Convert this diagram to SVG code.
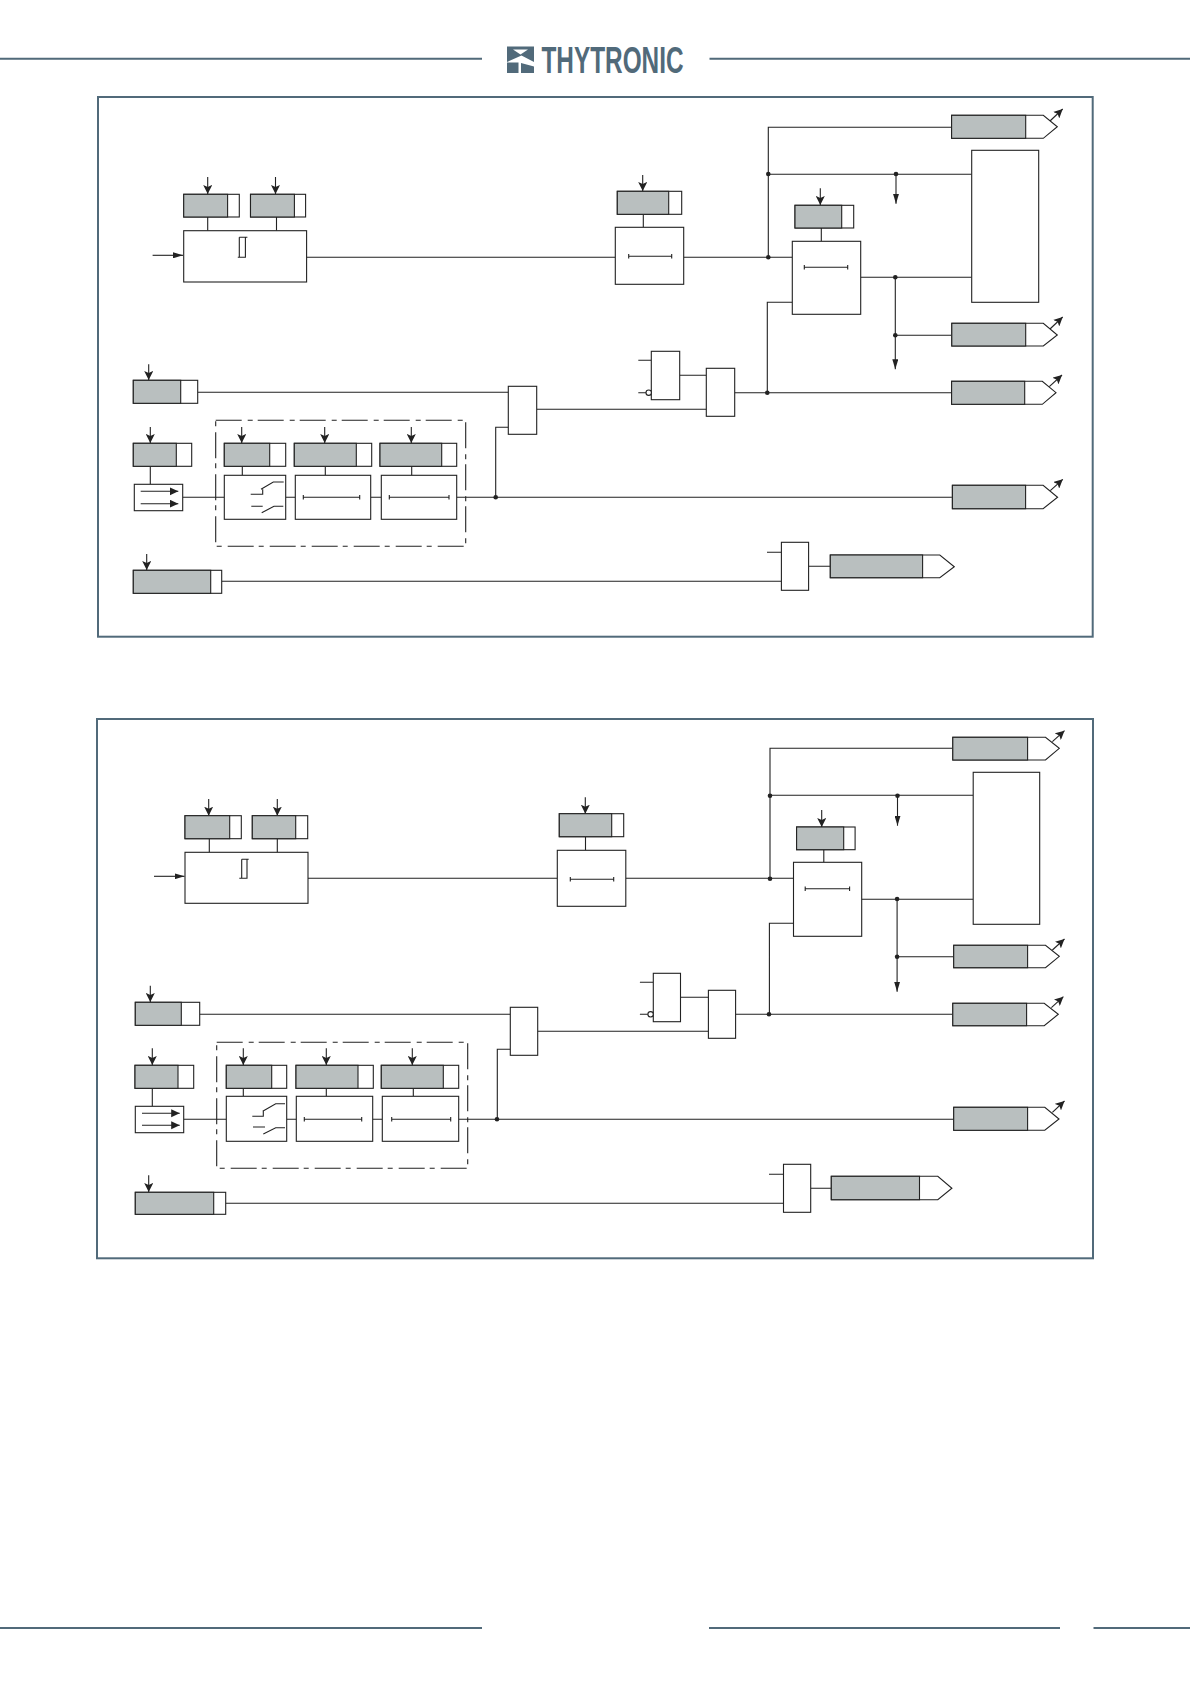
<svg xmlns="http://www.w3.org/2000/svg" width="1190" height="1684" viewBox="0 0 1190 1684">
<style>
.rule{stroke:#516a7a;stroke-width:2;fill:none}
.frame{stroke:#516a7a;stroke-width:2;fill:none}
.b{fill:#fff;stroke:#222;stroke-width:1.1}
.g{fill:#b9bfbf;stroke:#222;stroke-width:1.1}
.l{fill:none;stroke:#222;stroke-width:1.1}
.dash{fill:none;stroke:#222;stroke-width:1.1;stroke-dasharray:26 6 5 5}
.d{fill:#222}
.a{fill:none;stroke:#222;stroke-width:1.1;marker-end:url(#head)}
.t{fill:none;stroke:#222;stroke-width:1.1;marker-end:url(#tall)}
.f{fill:none;stroke:#222;stroke-width:1.1;marker-end:url(#fat)}
.logo{fill:#516a7a}
</style>
<defs>
<marker id="head" markerUnits="userSpaceOnUse" markerWidth="10" markerHeight="9" refX="9" refY="4.500" orient="auto"><path d="M0,0 L9,4.500 L0,9 L2,4.500 Z" fill="#222"/></marker>
<marker id="tall" markerUnits="userSpaceOnUse" markerWidth="10" markerHeight="6" refX="10" refY="3" orient="auto"><path d="M0,0 L10,3 L0,6 Z" fill="#222"/></marker>
<marker id="fat" markerUnits="userSpaceOnUse" markerWidth="9" markerHeight="9" refX="8.500" refY="4" orient="auto"><path d="M0,0 L8.500,4 L0,8 Z" fill="#222"/></marker>
</defs>
<rect width="1190" height="1684" fill="#fff"/>
<g id="header">
<path class="rule" d="M0,58.700H482M709.500,58.700H1190"/>
<path class="logo" d="M507,46.500H534V62L521.500,55.500 507,62Z"/>
<path d="M513,49.500H528L520.500,54.500Z" fill="#fff"/>
<path class="logo" d="M507,62.500H518.500V73H507ZM521,63L534,66.500V73H521Z"/>
<text x="541.500" y="73.300" font-family="'Liberation Sans',Arial,sans-serif" font-size="37.500" font-weight="bold" class="logo" textLength="142" lengthAdjust="spacingAndGlyphs">THYTRONIC</text>
</g>
<g id="footer"><path class="rule" d="M0,1628H482M709,1628H1060M1093.500,1628H1190"/></g>

<g id="panel1">
<rect id="frame1" class="frame" x="98" y="97" width="994.700" height="539.700"/>
<g id="connectors1">
<path class="l" d="M951,127.300H768.300V257.300M768.300,174.300H971.700M306.600,257.300H615.300M683.700,257.300H792.300M860.700,277.300H971.700M895.300,335.300H951.300M734.700,392.700H951M767.300,392.700V302.300H792.300M197.700,392.300H508.300M536.700,409.300H706.300M679.700,375.300H706.300M638.300,360.300H651.300M638.300,392.700H646M182.700,497.300H224.300M285.700,497.300H295.300M370.700,497.300H381.300M456.700,497.300H951.900M495.700,497.300V427.300H508.300M221.700,581.300H781.400M767,552.300H781.400M808.600,566.300H830.300M207.700,217V230.700M276.500,217V230.700M643.300,214.300V227.300M821.300,228V241.300M150.300,466.300V484.300M242.300,466.300V475.300M325.300,466.300V475.300M411.700,466.300V475.300"/>
<path class="a" d="M207.700,177V194"/><path class="a" d="M275.500,177V194"/><path class="a" d="M642.700,175V191"/><path class="a" d="M820.300,188.300V205"/>
<path class="a" d="M148.700,364.300V380"/><path class="a" d="M150.300,427V443"/><path class="a" d="M241.700,427V443"/><path class="a" d="M324.700,427V443"/><path class="a" d="M411.300,427V443"/><path class="a" d="M146.700,554V570"/>
<path class="a" d="M1050,121L1062.700,109"/>
<path class="a" d="M1050,329L1062.700,317"/><path class="a" d="M1049.300,386.700L1062,375"/><path class="a" d="M1050.300,490.700L1062.800,479.300"/>
<path class="t" d="M152.600,255.300H183"/><path class="t" d="M896,174.300V203.700"/><path class="t" d="M895.300,277.300V369.300"/>
<circle class="d" cx="768.300" cy="174" r="2.300"/><circle class="d" cx="768.300" cy="257.300" r="2.300"/><circle class="d" cx="896" cy="174" r="2.300"/><circle class="d" cx="895.300" cy="277.300" r="2.300"/><circle class="d" cx="895.300" cy="335.300" r="2.300"/><circle class="d" cx="767.300" cy="392.700" r="2.300"/><circle class="d" cx="495.700" cy="497.300" r="2.300"/>
</g>
<g id="p1-hyst"><rect class="b" x="183.700" y="230.700" width="122.900" height="51.300"/><path class="l" d="M239.300,237.300H247.400M245.400,237.300V257.300H237.800M239.300,237.300V257.300"/></g>
<g id="p1-tagA"><rect class="b" x="183.700" y="194.300" width="55.600" height="22.700"/><rect class="g" x="183.700" y="194.300" width="43.900" height="22.700"/></g>
<g id="p1-tagB"><rect class="b" x="250.500" y="194.300" width="55.100" height="22.700"/><rect class="g" x="250.500" y="194.300" width="43.900" height="22.700"/></g>
<g id="p1-tagC"><rect class="b" x="617.300" y="191.300" width="64.400" height="23"/><rect class="g" x="617.300" y="191.300" width="51.400" height="23"/></g>
<g id="p1-timerC"><rect class="b" x="615.300" y="227.300" width="68.400" height="57"/><path class="l" d="M628.700,256.300H671.700M628.700,254V258.600M671.700,254V258.600"/></g>
<g id="p1-tagD"><rect class="b" x="795" y="205.300" width="58.700" height="22.700"/><rect class="g" x="795" y="205.300" width="46.700" height="22.700"/></g>
<g id="p1-timerD"><rect class="b" x="792.300" y="241.300" width="68.400" height="73"/><path class="l" d="M804.300,267.300H847.700M804.300,265V269.600M847.700,265V269.600"/></g>
<g id="p1-block"><rect class="b" x="971.700" y="150.300" width="67" height="152"/></g>
<g id="p1-out1"><polygon class="b" points="951.600,115.300 1043.300,115.300 1057.300,126.700 1043.300,138.300 951.600,138.300"/><rect class="g" x="951.600" y="115.300" width="74.100" height="23"/></g>
<g id="p1-out2"><polygon class="b" points="951.800,323.300 1043.300,323.300 1057.300,335 1043.300,346 951.800,346"/><rect class="g" x="951.800" y="323.300" width="73.900" height="22.700"/></g>
<g id="p1-out3"><polygon class="b" points="951.600,381.300 1042.300,381.300 1056,392.700 1042.300,404.300 951.600,404.300"/><rect class="g" x="951.600" y="381.300" width="73.100" height="23"/></g>
<g id="p1-out4"><polygon class="b" points="952.400,485.300 1043.100,485.300 1057.600,497.300 1043.100,508.700 952.400,508.700"/><rect class="g" x="952.400" y="485.300" width="73.200" height="23.400"/></g>
<g id="p1-out5"><polygon class="b" points="830.300,555 939.800,555 954.300,566.700 939.800,577.700 830.300,577.700"/><rect class="g" x="830.300" y="555" width="92.300" height="22.700"/></g>
<g id="p1-gate1"><rect class="b" x="651.300" y="351.300" width="28.400" height="48.400"/><circle class="b" cx="648.700" cy="392.700" r="2.700"/></g>
<g id="p1-gate2"><rect class="b" x="706.300" y="368.300" width="28.400" height="48"/></g>
<g id="p1-gate3"><rect class="b" x="508.300" y="386.300" width="28.400" height="48"/></g>
<g id="p1-gate4"><rect class="b" x="781.400" y="542.300" width="27.200" height="48"/></g>
<g id="p1-tagE"><rect class="b" x="133.300" y="380.300" width="64.400" height="23"/><rect class="g" x="133.300" y="380.300" width="47.400" height="23"/></g>
<g id="p1-tagF"><rect class="b" x="133.300" y="443.300" width="58.400" height="23"/><rect class="g" x="133.300" y="443.300" width="43" height="23"/></g>
<g id="p1-tagG"><rect class="b" x="133.300" y="570.300" width="88.400" height="23"/><rect class="g" x="133.300" y="570.300" width="77.400" height="23"/></g>
<g id="p1-dbl"><rect class="b" x="134.300" y="484.300" width="48.400" height="26.400"/><path class="f" d="M140.700,491.300H178.300"/><path class="f" d="M140.700,503.700H178.300"/></g>
<g id="p1-group"><rect class="dash" x="215.700" y="420.300" width="250" height="126"/></g>
<g id="p1-tagH"><rect class="b" x="224.300" y="443.300" width="61.400" height="23"/><rect class="g" x="224.300" y="443.300" width="45.400" height="23"/></g>
<g id="p1-switch"><rect class="b" x="224.300" y="475.300" width="61.400" height="44"/><path class="l" d="M250.700,494.300H262.700V489.300M261,489.300L273.300,482H283.700M251.300,506.300H262.700M261.700,512.700L274,506.300H283.300"/></g>
<g id="p1-tagI"><rect class="b" x="294.300" y="443.300" width="77.400" height="23"/><rect class="g" x="294.300" y="443.300" width="62" height="23"/></g>
<g id="p1-timerI"><rect class="b" x="295.300" y="475.300" width="75.400" height="44"/><path class="l" d="M303.300,497.300H359.700M303.300,495V499.600M359.700,495V499.600"/></g>
<g id="p1-tagJ"><rect class="b" x="380" y="443.300" width="76.700" height="23"/><rect class="g" x="380" y="443.300" width="61.700" height="23"/></g>
<g id="p1-timerJ"><rect class="b" x="381.300" y="475.300" width="75.400" height="44"/><path class="l" d="M389.300,497.300H449M389.300,495V499.600M449,495V499.600"/></g>
</g>

<g id="panel2">
<rect id="frame2" class="frame" x="97" y="719" width="996" height="539.300"/>
<g id="connectors2">
<path class="l" d="M952.200,748.300H770V878.700M770,795.300H973.200M308,878.300H557.300M625.800,878.300H793.500M861.700,899.300H973.200M897.100,956.700H953.200M735.600,1014.300H952.200M769.400,1014.300V923.300H793.500M199.700,1014.300H510.300M537.700,1031.300H708.400M680.500,997.300H708.400M639.900,982.300H653.300M639.900,1014.300H648M183.700,1119.300H226.300M286.700,1119.300H296.300M372.700,1119.300H382.300M458.700,1119.300H953.200M497.300,1119.300V1049.300H510.300M225.700,1203.300H783.500M769,1174.300H783.500M810.700,1188.300H831.300M209.300,838.700V852.300M277.300,838.700V852.300M585.500,836.700V850.300M823.800,849.700V862.300M152.300,1088.300V1106.300M243.300,1088.300V1096.300M326.300,1088.300V1096.300M413.300,1088.300V1096.300"/>
<path class="a" d="M208.700,799V815.700"/><path class="a" d="M277.300,799V815.700"/><path class="a" d="M585.300,797.300V813.700"/><path class="a" d="M821.700,810V827"/>
<path class="a" d="M150.300,985.700V1002"/><path class="a" d="M152.300,1048.300V1065"/><path class="a" d="M243.300,1048.300V1065"/><path class="a" d="M326.300,1048.300V1065"/><path class="a" d="M412.300,1048.300V1065"/><path class="a" d="M148.700,1175.300V1192"/>
<path class="a" d="M1052.400,741.700L1064.500,730.700"/><path class="a" d="M1052.400,950L1064.500,939"/><path class="a" d="M1051.400,1007.700L1063.400,996.700"/><path class="a" d="M1052.400,1112.300L1064.500,1101"/>
<path class="t" d="M154,876.300H184.500"/><path class="t" d="M897.500,795.300V825.700"/><path class="t" d="M897.100,899.300V991.700"/>
<circle class="d" cx="770" cy="795.700" r="2.300"/><circle class="d" cx="770" cy="878.700" r="2.300"/><circle class="d" cx="897.500" cy="795.700" r="2.300"/><circle class="d" cx="897.100" cy="899" r="2.300"/><circle class="d" cx="897.100" cy="956.700" r="2.300"/><circle class="d" cx="769" cy="1014.300" r="2.300"/><circle class="d" cx="497" cy="1119.300" r="2.300"/>
</g>
<g id="p2-hyst"><rect class="b" x="185" y="852.300" width="123" height="51"/><path class="l" d="M241.700,859.300H248.700M247,859.300V878.300H239.300M241.700,859.300V878.300"/></g>
<g id="p2-tagA"><rect class="b" x="185" y="815.700" width="56.300" height="23"/><rect class="g" x="185" y="815.700" width="44.700" height="23"/></g>
<g id="p2-tagB"><rect class="b" x="252.300" y="815.700" width="55.400" height="23"/><rect class="g" x="252.300" y="815.700" width="43.400" height="23"/></g>
<g id="p2-tagC"><rect class="b" x="559.300" y="813.700" width="64.400" height="23"/><rect class="g" x="559.300" y="813.700" width="52.400" height="23"/></g>
<g id="p2-timerC"><rect class="b" x="557.300" y="850.300" width="68.500" height="56"/><path class="l" d="M570.300,879.300H613.700M570.300,877V881.600M613.700,877V881.600"/></g>
<g id="p2-tagD"><rect class="b" x="796.600" y="827" width="58.500" height="22.700"/><rect class="g" x="796.600" y="827" width="47.100" height="22.700"/></g>
<g id="p2-timerD"><rect class="b" x="793.500" y="862.300" width="68.200" height="74"/><path class="l" d="M805.200,888.700H849.600M805.200,886.400V891M849.600,886.400V891"/></g>
<g id="p2-block"><rect class="b" x="973.200" y="772.300" width="66.500" height="152"/></g>
<g id="p2-out1"><polygon class="b" points="952.800,737.300 1045.500,737.300 1059.300,748.300 1045.500,760 952.800,760"/><rect class="g" x="952.800" y="737.300" width="74.800" height="22.700"/></g>
<g id="p2-out2"><polygon class="b" points="953.700,945.300 1045.500,945.300 1059.300,956.300 1045.500,967.700 953.700,967.700"/><rect class="g" x="953.700" y="945.300" width="73.900" height="22.400"/></g>
<g id="p2-out3"><polygon class="b" points="952.800,1003.300 1044.200,1003.300 1058.300,1014.300 1044.200,1025.700 952.800,1025.700"/><rect class="g" x="952.800" y="1003.300" width="73.800" height="22.400"/></g>
<g id="p2-out4"><polygon class="b" points="953.700,1107.300 1044.800,1107.300 1059,1119 1044.800,1130.300 953.700,1130.300"/><rect class="g" x="953.700" y="1107.300" width="73.900" height="23"/></g>
<g id="p2-out5"><polygon class="b" points="831.300,1176.300 937.800,1176.300 951.900,1188.300 937.800,1199.700 831.300,1199.700"/><rect class="g" x="831.300" y="1176.300" width="88.200" height="23.400"/></g>
<g id="p2-gate1"><rect class="b" x="653.300" y="973.300" width="27.200" height="48.400"/><circle class="b" cx="650.600" cy="1014.300" r="2.700"/></g>
<g id="p2-gate2"><rect class="b" x="708.400" y="990.300" width="27.200" height="48"/></g>
<g id="p2-gate3"><rect class="b" x="510.300" y="1007.300" width="27.400" height="48"/></g>
<g id="p2-gate4"><rect class="b" x="783.500" y="1164.300" width="27.200" height="48"/></g>
<g id="p2-tagE"><rect class="b" x="135.300" y="1002.300" width="64.400" height="23"/><rect class="g" x="135.300" y="1002.300" width="46" height="23"/></g>
<g id="p2-tagF"><rect class="b" x="135" y="1065.300" width="58.700" height="23"/><rect class="g" x="135" y="1065.300" width="43" height="23"/></g>
<g id="p2-tagG"><rect class="b" x="135.300" y="1192.300" width="90.400" height="22"/><rect class="g" x="135.300" y="1192.300" width="78.400" height="22"/></g>
<g id="p2-dbl"><rect class="b" x="135.300" y="1106.300" width="48.400" height="26.400"/><path class="f" d="M142,1113.300H179.700"/><path class="f" d="M142,1125.300H179.700"/></g>
<g id="p2-group"><rect class="dash" x="216.700" y="1042.300" width="251" height="126"/></g>
<g id="p2-tagH"><rect class="b" x="226.300" y="1065.300" width="60.400" height="23"/><rect class="g" x="226.300" y="1065.300" width="45.400" height="23"/></g>
<g id="p2-switch"><rect class="b" x="226.300" y="1096.300" width="60.400" height="45"/><path class="l" d="M252.300,1116.300H263.300V1111.300M262.700,1111.300L275.700,1103.700H285M253,1127H265M263.300,1134L275.700,1127.700H285"/></g>
<g id="p2-tagI"><rect class="b" x="296" y="1065.300" width="77.300" height="23"/><rect class="g" x="296" y="1065.300" width="62" height="23"/></g>
<g id="p2-timerI"><rect class="b" x="296.300" y="1096.300" width="76.400" height="45"/><path class="l" d="M304.300,1119.300H361.700M304.300,1117V1121.600M361.700,1117V1121.600"/></g>
<g id="p2-tagJ"><rect class="b" x="381.300" y="1065.300" width="77.400" height="23"/><rect class="g" x="381.300" y="1065.300" width="62" height="23"/></g>
<g id="p2-timerJ"><rect class="b" x="382.300" y="1096.300" width="76.400" height="45"/><path class="l" d="M391.700,1119.300H450.700M391.700,1117V1121.600M450.700,1117V1121.600"/></g>
</g>
</svg>
